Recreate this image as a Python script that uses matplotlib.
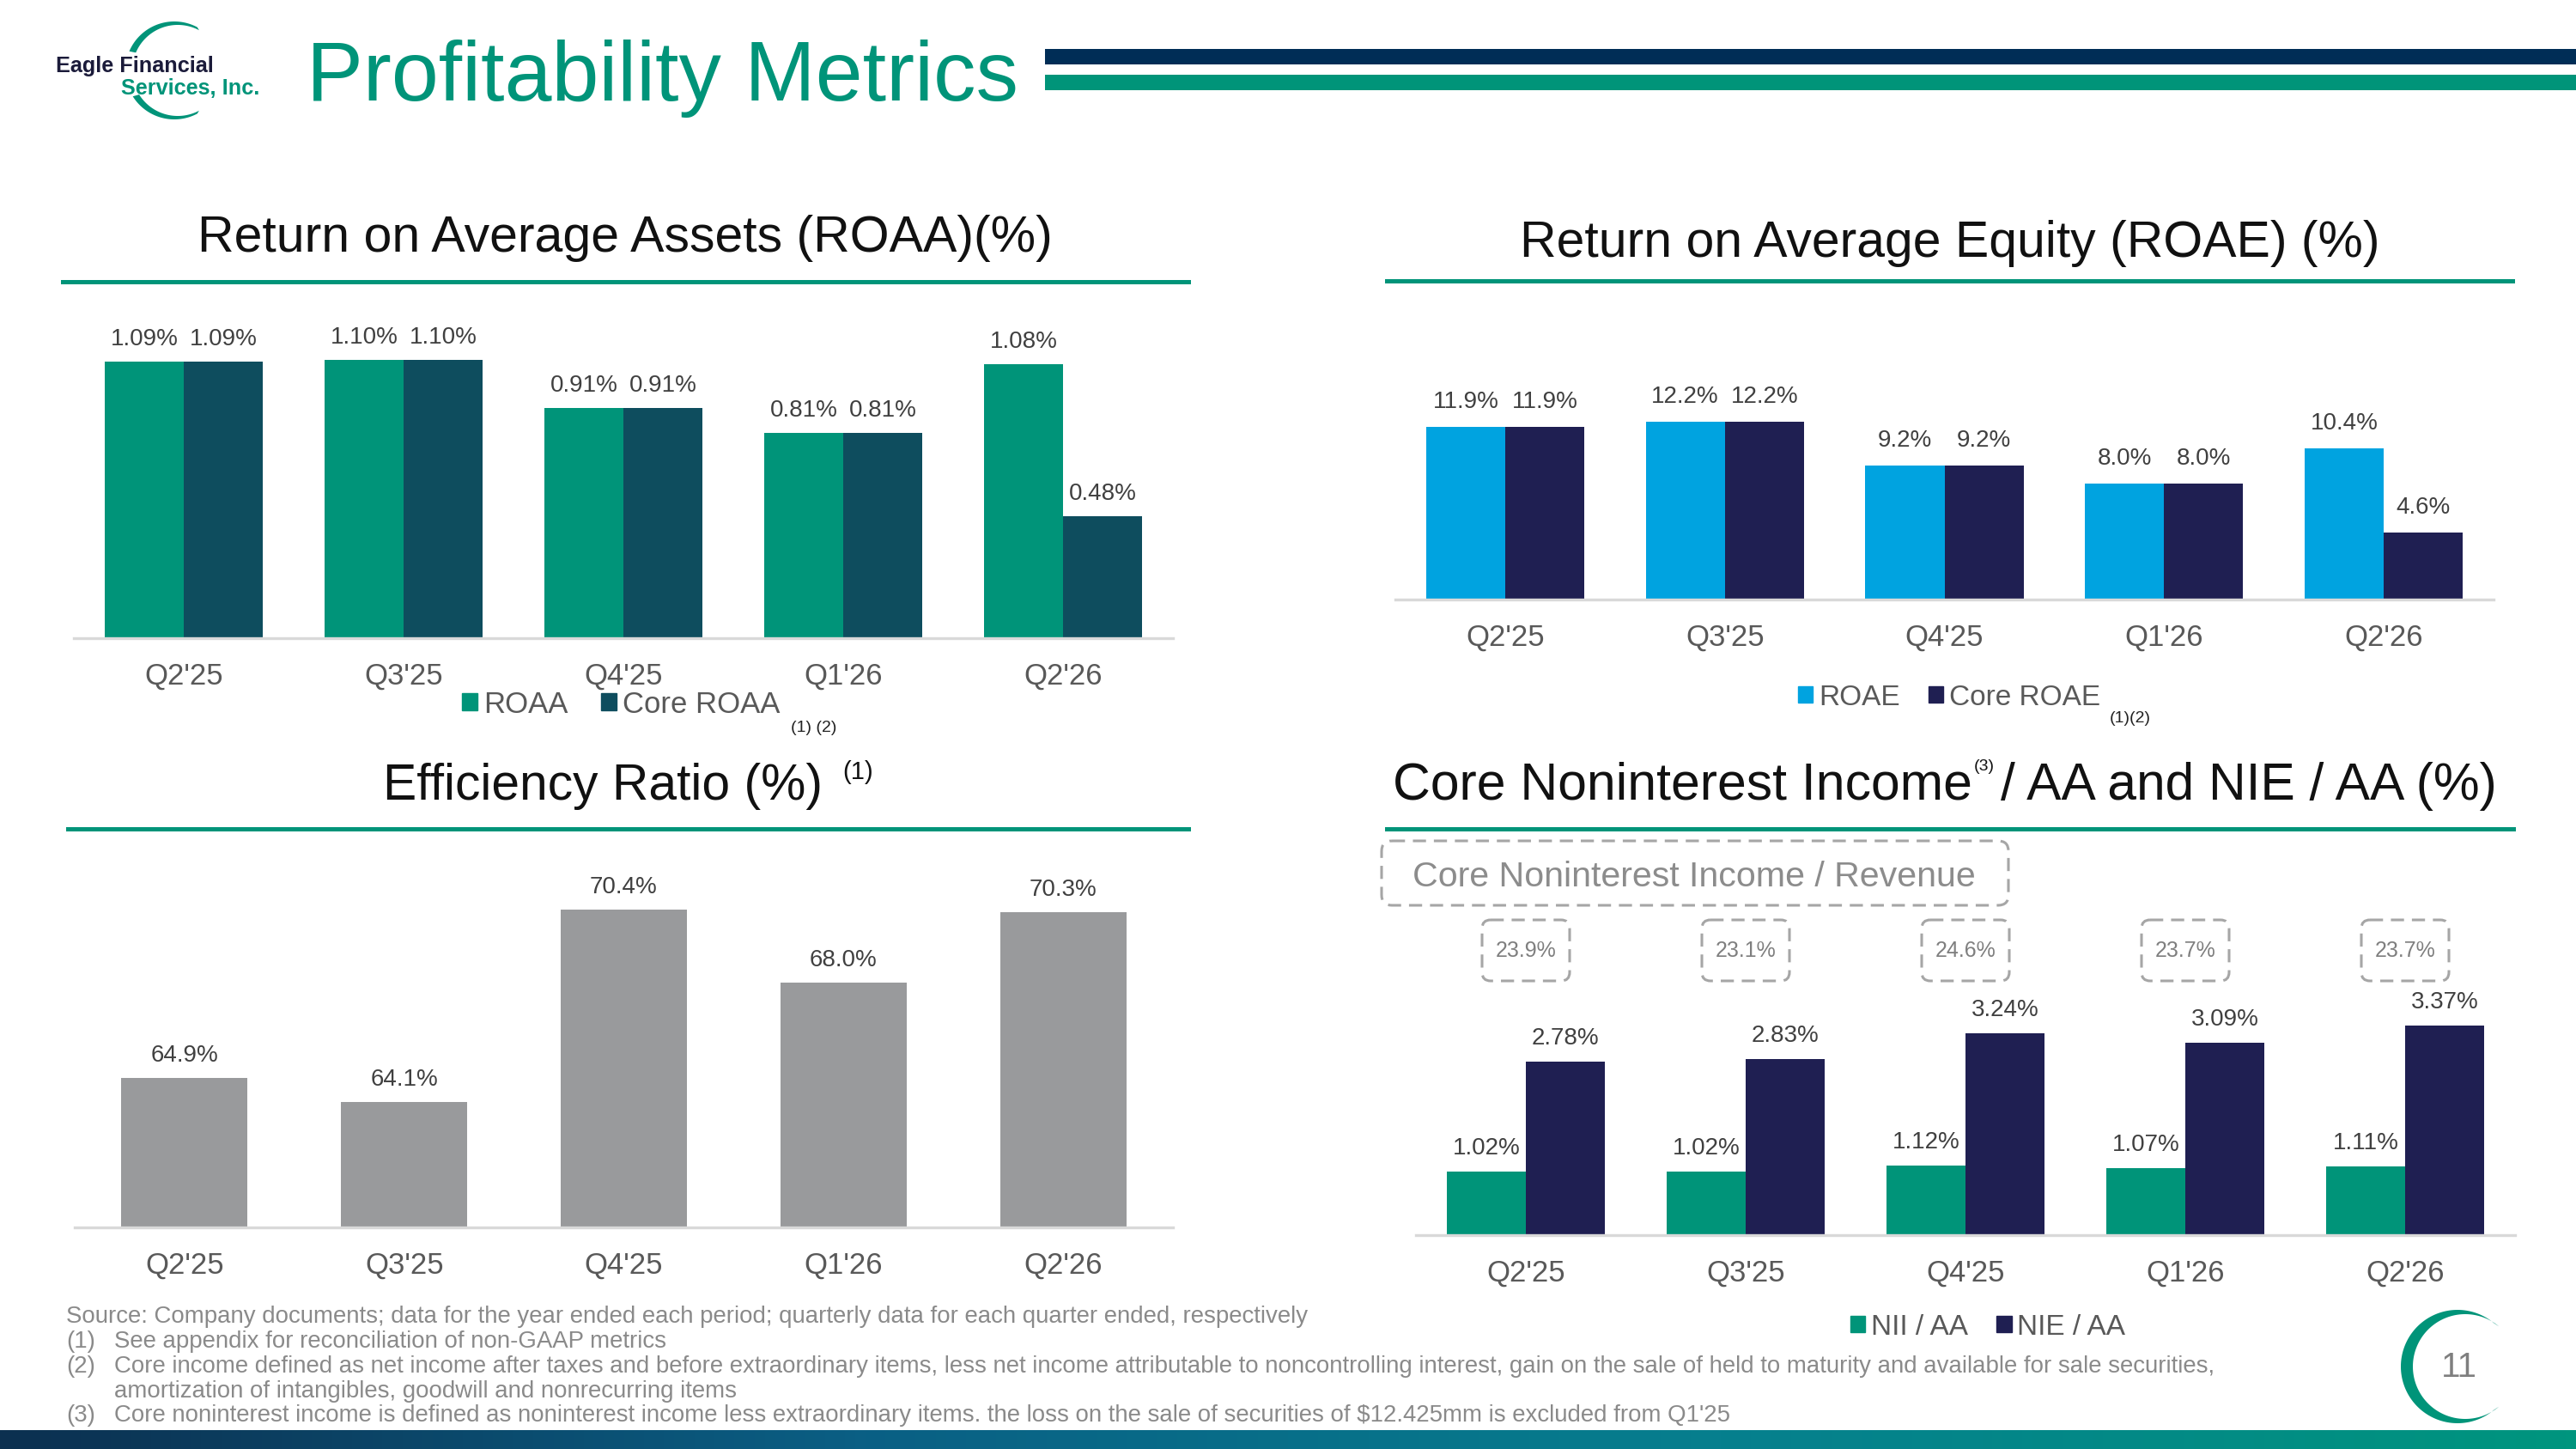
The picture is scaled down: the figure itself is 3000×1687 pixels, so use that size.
import numpy as np
import matplotlib
matplotlib.use('Agg')
import matplotlib.pyplot as plt
from matplotlib.patches import Patch, FancyBboxPatch, Polygon, Rectangle
from matplotlib.transforms import Affine2D, blended_transform_factory
from matplotlib.colors import LinearSegmentedColormap
import logging
logging.getLogger('matplotlib.font_manager').setLevel(logging.ERROR)

plt.rcParams['font.family'] = ['Liberation Sans', 'DejaVu Sans']

# ---------------- data ----------------
quarters = ["Q2'25", "Q3'25", "Q4'25", "Q1'26", "Q2'26"]
roaa = [1.09, 1.10, 0.91, 0.81, 1.08]
core_roaa = [1.09, 1.10, 0.91, 0.81, 0.48]
roae = [11.9, 12.2, 9.2, 8.0, 10.4]
core_roae = [11.9, 12.2, 9.2, 8.0, 4.6]
efficiency = [64.9, 64.1, 70.4, 68.0, 70.3]
nii_aa = [1.02, 1.02, 1.12, 1.07, 1.11]
nie_aa = [2.78, 2.83, 3.24, 3.09, 3.37]
nonint_rev = [23.9, 23.1, 24.6, 23.7, 23.7]

footnotes = [
    "Source: Company documents; data for the year ended each period; quarterly data for each quarter ended, respectively",
    ("(1)", "See appendix for reconciliation of non-GAAP metrics"),
    ("(2)", "Core income defined as net income after taxes and before extraordinary items, less net income attributable to noncontrolling interest, gain on the sale of held to maturity and available for sale securities,"),
    ("", "amortization of intangibles, goodwill and nonrecurring items"),
    ("(3)", "Core noninterest income is defined as noninterest income less extraordinary items. the loss on the sale of securities of $12.425mm is excluded from Q1'25"),
]

# ---------------- colours ----------------
TEAL = '#009479'
DTEAL = '#0E4D5E'
SKY = '#00A3E0'
NAVY = '#1F1F52'
GREY = '#999A9C'
HNAVY = '#002D56'

W, H = 3000, 1687
fig = plt.figure(figsize=(W / 100, H / 100), dpi=100)
P = Affine2D().scale(1 / W, -1 / H).translate(0, 1) + fig.transFigure
R = fig.canvas.get_renderer()


def rect(x0, y0, x1, y1):
    return [x0 / W, 1 - y1 / H, (x1 - x0) / W, (y1 - y0) / H]


def fit_text(x0, x1, y, s, size0=20, **kw):
    t = fig.text(x0, y, s, transform=P, fontsize=size0, ha='left', va='baseline', **kw)
    w = t.get_window_extent(renderer=R).width
    t.set_fontsize(size0 * (x1 - x0) / w)
    return t


def crescent(cx, cy, r, e, d, segs, color):
    for a0, a1 in segs:
        th = np.radians(np.linspace(a0, a1, 120))
        outer = np.c_[cx + r * np.cos(th), cy - r * np.sin(th)]
        ri = r - e
        inner = np.c_[cx + d + ri * np.cos(th[::-1]), cy - ri * np.sin(th[::-1])]
        fig.patches.append(Polygon(np.vstack([outer, inner]), closed=True, transform=P,
                                   fc=color, ec='none'))


def bar_chart(box, ylim, series, colors, width, fmt, label_off, pad=19):
    ax = fig.add_axes(rect(*box))
    x = np.arange(len(quarters))
    n = len(series)
    for k, (vals, c) in enumerate(zip(series, colors)):
        off = (k - (n - 1) / 2) * width
        ax.bar(x + off, vals, width, color=c, linewidth=0)
        for xi, v in zip(x + off, vals):
            ax.annotate(fmt.format(v), (xi, v), xytext=(0, label_off), textcoords='offset pixels',
                        ha='center', va='baseline', fontsize=20, color='#404040')
    ax.set_xlim(-0.5, len(quarters) - 0.5)
    ax.set_ylim(*ylim)
    for s in ['top', 'right', 'left']:
        ax.spines[s].set_visible(False)
    ax.spines['bottom'].set_color('#D9D9D9')
    ax.spines['bottom'].set_linewidth(2.4)
    ax.set_yticks([])
    ax.set_xticks(x)
    ax.set_xticklabels(quarters)
    ax.tick_params(axis='x', length=0, pad=pad, labelsize=25, labelcolor='#595959')
    ax.patch.set_alpha(0)
    return ax


# ---------------- header ----------------
fig.patches.append(Rectangle((1217, 57), W - 1217, 18, transform=P, fc=HNAVY, ec='none'))
fig.patches.append(Rectangle((1217, 87), W - 1217, 18, transform=P, fc=TEAL, ec='none'))
fit_text(357, 1187, 117, "Profitability Metrics", size0=60, color=TEAL)

# logo
crescent(203, 82, 57, 4, 4, [(62, 157), (212, 298)], TEAL)
LOGO_FAM = ['Liberation Sans Narrow', 'DejaVu Sans Condensed', 'Liberation Sans']
fit_text(65, 249, 84, "Eagle Financial", size0=14, color='#1B1B3A', fontweight='bold', family=LOGO_FAM)
fit_text(141, 303, 110, "Services, Inc.", size0=14, color=TEAL, fontweight='bold', family=LOGO_FAM)

# ---------------- chart titles ----------------
TC = '#111111'
fit_text(230, 1225, 293, "Return on Average Assets (ROAA)(%)", size0=40, color=TC)
fit_text(1770, 2770, 299, "Return on Average Equity (ROAE) (%)", size0=40, color=TC)
fit_text(446, 957, 931, "Efficiency Ratio (%)", size0=40, color=TC)
fig.text(981, 899, "(1)", transform=P, fontsize=21, ha='left', va='center', color=TC)
fit_text(1622, 2296, 931, "Core Noninterest Income", size0=40, color=TC)
fig.text(2299, 893, "(3)", transform=P, fontsize=14, ha='left', va='center', color=TC)
fit_text(2330, 2908, 931, "/ AA and NIE / AA (%)", size0=40, color=TC)

# underlines
for x0, x1, y in [(71, 1387, 328), (1613, 2929, 327), (77, 1387, 966), (1613, 2930, 966)]:
    fig.patches.append(Rectangle((x0, y - 2.5), x1 - x0, 5, transform=P, fc=TEAL, ec='none'))

# ---------------- charts ----------------
ax1 = bar_chart((86, 389, 1366, 743), (0, 1.2), [roaa, core_roaa], [TEAL, DTEAL], 0.36, '{:.2f}%', 19, pad=20)
ax2 = bar_chart((1625, 461, 2904, 698), (0, 14), [roae, core_roae], [SKY, NAVY], 0.36, '{:.1f}%', 22, pad=20)
ax3 = bar_chart((87, 1002, 1366, 1429), (60, 72), [efficiency], [GREY], 0.574, '{:.1f}%', 19, pad=20)
ax4 = bar_chart((1649, 1148, 2929, 1438), (0, 4), [nii_aa, nie_aa], [TEAL, NAVY], 0.36, '{:.2f}%', 20, pad=20)

# legends
def legend(ax, labels, colors, cx, cy, size, colsp):
    hs = [Patch(color=c, label=l) for l, c in zip(labels, colors)]
    ax.legend(handles=hs, loc='center', bbox_to_anchor=(cx / W, 1 - cy / H), bbox_transform=fig.transFigure,
              ncol=len(hs), frameon=False, fontsize=size, labelcolor='#595959', handlelength=0.52,
              handleheight=0.52, handletextpad=0.2, columnspacing=colsp, borderpad=0, borderaxespad=0)

legend(ax1, ['ROAA', 'Core ROAA'], [TEAL, DTEAL], 723, 820, 25, 1.1)
fig.text(948, 848, "(1) (2)", transform=P, fontsize=14, ha='center', va='center', color='#222222')
legend(ax2, ['ROAE', 'Core ROAE'], [SKY, NAVY], 2270, 812, 24, 1.0)
fig.text(2481, 837, "(1)(2)", transform=P, fontsize=14, ha='center', va='center', color='#222222')
legend(ax4, ['NII / AA', 'NIE / AA'], [TEAL, NAVY], 2315, 1545, 24, 1.0)

# dashed boxes for core noninterest income / revenue
BOXC = '#A6A6A6'
fig.patches.append(FancyBboxPatch((1609, 979), 730, 75, boxstyle='round,pad=0,rounding_size=12', transform=P,
                                  fill=False, ec=BOXC, lw=2.2, ls=(0, (5, 3))))
fit_text(1645, 2301, 1032, "Core Noninterest Income / Revenue", size0=28, color='#8C8C8C')
bt = blended_transform_factory(ax4.transData, P)
for i, v in enumerate(nonint_rev):
    xc = ax4.transData.transform((i, 0))[0]
    fig.patches.append(FancyBboxPatch((xc - 51, 1071), 102, 71, boxstyle='round,pad=0,rounding_size=10',
                                      transform=P, fill=False, ec=BOXC, lw=2.2, ls=(0, (5, 3))))
    ax4.text(i, 1107, f"{v:.1f}%", transform=bt, ha='center', va='center', fontsize=18,
             color='#7F7F7F', clip_on=False)

# ---------------- footnotes ----------------
FC = '#8A8A8A'
t2 = fit_text(133, 2592, 1598, footnotes[2][1], size0=15, color=FC)
fs = t2.get_fontsize()
ys = [1540, 1569, 1598, 1627, 1655]
fig.text(77, ys[0], footnotes[0], transform=P, fontsize=fs, ha='left', va='baseline', color=FC)
for y, (num, txt) in zip(ys[1:], footnotes[1:]):
    if num:
        fig.text(77, y, num, transform=P, fontsize=fs, ha='left', va='baseline', color=FC)
    if txt is not footnotes[2][1]:
        fig.text(133, y, txt, transform=P, fontsize=fs, ha='left', va='baseline', color=FC)

# page number logo
crescent(2862, 1591, 66, 5, 9, [(50, 310)], TEAL)
fig.text(2864, 1592, "11", transform=P, fontsize=29, ha='center', va='center', color='#7F7F7F')

# bottom gradient bar
cmap = LinearSegmentedColormap.from_list('g', ['#0C3050', '#0A5F84', '#067F8E', '#00957E'])
axg = fig.add_axes(rect(0, 1665, W, H))
axg.imshow(np.linspace(0, 1, 512)[None, :], aspect='auto', cmap=cmap)
axg.axis('off')

fig.savefig('out.png', dpi=100)
